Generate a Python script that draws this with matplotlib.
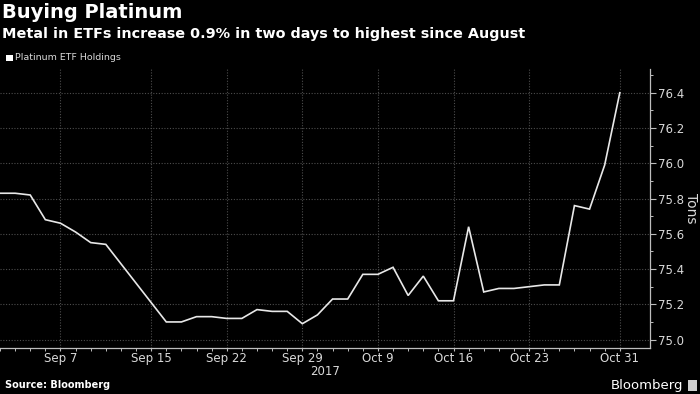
import matplotlib.pyplot as plt
from matplotlib.ticker import MultipleLocator, FixedLocator

# Trading days shown in the chart (one early-October day has no value)
dates = ['Sep 1', 'Sep 4', 'Sep 5', 'Sep 6', 'Sep 7', 'Sep 8', 'Sep 11', 'Sep 12',
         'Sep 13', 'Sep 14', 'Sep 15', 'Sep 18', 'Sep 19', 'Sep 20', 'Sep 21',
         'Sep 22', 'Sep 25', 'Sep 26', 'Sep 27', 'Sep 28', 'Sep 29', 'Oct 3',
         'Oct 4', 'Oct 5', 'Oct 6', 'Oct 9', 'Oct 10', 'Oct 11', 'Oct 12',
         'Oct 13', 'Oct 16', 'Oct 17', 'Oct 18', 'Oct 19', 'Oct 20', 'Oct 23',
         'Oct 24', 'Oct 25', 'Oct 26', 'Oct 27', 'Oct 30', 'Oct 31']

# Platinum ETF holdings, tons
holdings = [75.83, 75.83, 75.82, 75.68, 75.66, 75.61, 75.55, 75.54,
            75.43, 75.32, 75.21, 75.10, 75.10, 75.13, 75.13,
            75.12, 75.12, 75.17, 75.16, 75.16, 75.09, 75.14,
            75.23, 75.23, 75.37, 75.37, 75.41, 75.25, 75.36,
            75.22, 75.22, 75.64, 75.27, 75.29, 75.29, 75.30,
            75.31, 75.31, 75.76, 75.74, 75.99, 76.40]

tick_dates = ['Sep 7', 'Sep 15', 'Sep 22', 'Sep 29', 'Oct 9', 'Oct 16', 'Oct 23', 'Oct 31']
y_ticks = [75.0, 75.2, 75.4, 75.6, 75.8, 76.0, 76.2, 76.4]

bg = 'black'
fg = '#d9d9d9'
grid_c = '#4d4d4d'

fig = plt.figure(figsize=(7, 3.94), dpi=100, facecolor=bg)
ax = fig.add_axes([0.0, 0.118, 0.9286, 0.707], facecolor=bg)

x = list(range(len(dates)))
ax.plot(x, holdings, color='#e8e8e8', lw=1.2, solid_joinstyle='miter')

ax.set_xlim(0, 43)
ax.set_ylim(74.955, 76.535)

ax.xaxis.set_major_locator(FixedLocator([dates.index(d) for d in tick_dates]))
ax.set_xticklabels(tick_dates)
ax.xaxis.set_minor_locator(FixedLocator(x))
ax.yaxis.tick_right()
ax.yaxis.set_label_position('right')
ax.set_yticks(y_ticks)
ax.set_yticklabels([f'{v:.1f}' for v in y_ticks])
ax.yaxis.set_minor_locator(MultipleLocator(0.1))

for s in ['left', 'top']:
    ax.spines[s].set_visible(False)
for s in ['right', 'bottom']:
    ax.spines[s].set_color('#bdbdbd')
    ax.spines[s].set_linewidth(0.9)

ax.tick_params(axis='y', which='major', colors='#bdbdbd', labelcolor=fg,
               labelsize=8.5, length=4, width=0.8, pad=2)
ax.tick_params(axis='y', which='minor', colors='#bdbdbd', length=2.5, width=0.7)
ax.tick_params(axis='x', which='major', colors='#bdbdbd', labelcolor=fg,
               labelsize=8.5, length=2.5, width=0.8, pad=0.5)
ax.tick_params(axis='x', which='minor', colors='#bdbdbd', length=2, width=0.7)

ax.grid(True, which='major', color=grid_c, linestyle=(0, (1, 1.5)), linewidth=0.8)

ax.set_ylabel('Tons', color=fg, fontsize=10, rotation=270, labelpad=10)

# Titles and annotations
fig.text(0.003, 0.992, 'Buying Platinum', color='white', fontsize=14,
         fontweight='bold', va='top', ha='left')
fig.text(0.003, 0.932, 'Metal in ETFs increase 0.9% in two days to highest since August',
         color='white', fontsize=10.4, fontweight='bold', va='top', ha='left')
fig.patches.append(plt.Rectangle((0.009, 0.845), 0.009, 0.016, transform=fig.transFigure,
                                 facecolor='white', edgecolor='none'))
fig.text(0.022, 0.853, 'Platinum ETF Holdings', color=fg, fontsize=6.8,
         va='center', ha='left')

fig.text(0.464, 0.057, '2017', color=fg, fontsize=8.5, ha='center', va='center')
fig.text(0.007, 0.022, 'Source: Bloomberg', color='white', fontsize=7,
         fontweight='bold', ha='left', va='center')
fig.text(0.976, 0.022, 'Bloomberg', color='white', fontsize=9.5,
         ha='right', va='center')
fig.patches.append(plt.Rectangle((0.983, 0.008), 0.013, 0.028, transform=fig.transFigure,
                                 facecolor='#cfcfcf', edgecolor='none'))

fig.savefig('out.png', dpi=100, facecolor=bg)
